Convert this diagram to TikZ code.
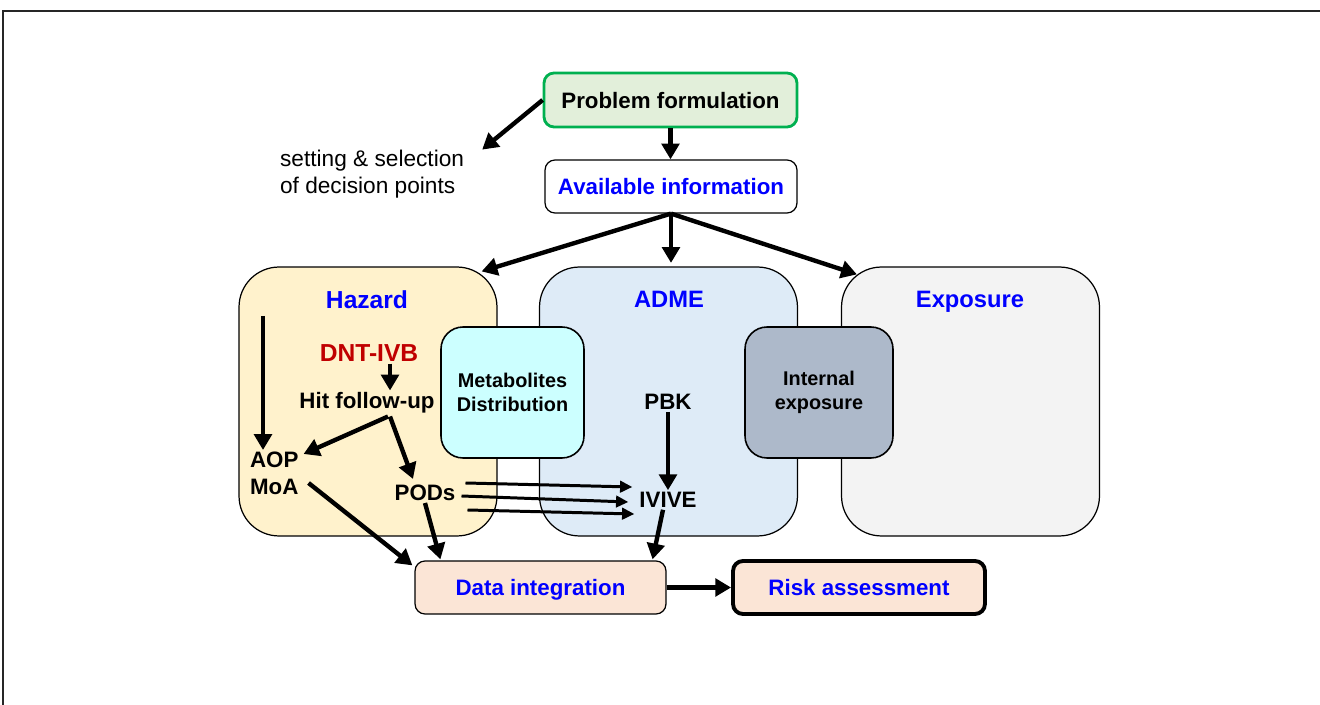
\documentclass[tikz,border=0pt]{standalone}
\usepackage{fontspec}
\setmainfont{Liberation Sans}
\usetikzlibrary{positioning,arrows.meta}
\definecolor{pfgreen}{RGB}{0,176,80}
\definecolor{pffill}{RGB}{226,239,218}
\definecolor{hazfill}{RGB}{255,242,204}
\definecolor{admefill}{RGB}{222,235,247}
\definecolor{expofill}{RGB}{243,243,243}
\definecolor{metafill}{RGB}{204,255,255}
\definecolor{intfill}{RGB}{173,185,202}
\definecolor{difill}{RGB}{251,229,214}
\definecolor{dntred}{RGB}{192,0,0}
\definecolor{titleblue}{RGB}{0,0,255}
\tikzstyle{panel} = [rectangle, draw=black, line width=0.7pt, rounded corners=0.8cm, minimum width=5.16cm, minimum height=5.38cm, inner sep=0pt]
\tikzstyle{block} = [rectangle, draw=black, line width=0.7pt, rounded corners=0.2cm, minimum width=5.04cm, minimum height=1.06cm, inner sep=0pt, text height=12.5pt, text depth=3.3pt, text=titleblue, font=\fontsize{12.7}{15.4}\selectfont\bfseries]
\tikzstyle{innerbox} = [rectangle, draw=black, line width=0.9pt, rounded corners=0.44cm, minimum height=2.62cm, inner sep=0pt, align=center, font=\fontsize{11.3}{13.7}\selectfont\bfseries]
\tikzstyle{lbl} = [inner sep=1pt, font=\fontsize{12.7}{15.4}\selectfont\bfseries]
\tikzstyle{paneltitle} = [inner sep=1pt, anchor=base, text=titleblue, font=\fontsize{13.5}{16}\selectfont\bfseries]
\tikzstyle{arrow} = [line width=2.5pt, -{Triangle[length=9pt,width=10pt]}]
\tikzstyle{thinarrow} = [line width=1.7pt, -{Triangle[length=7pt,width=6.5pt]}]
\begin{document}
\begin{tikzpicture}[x=0.02cm, y=-0.02cm]
		\useasboundingbox (0,0) rectangle (1320,705);
		\draw[line width=1pt, black!85] (3,705) -- (3,11) -- (1320,11);
		% three panels
		\node[panel, fill=hazfill] (hazard) at (368,401.5) {};
		\node[panel, fill=admefill] (adme) at (668.5,401.5) {};
		\node[panel, fill=expofill] (expo) at (970.5,401.5) {};
		\node[innerbox, fill=metafill, minimum width=2.86cm] (meta) at (512.5,392.5) {Metabolites\\Distribution};
		\node[innerbox, fill=intfill, minimum width=2.96cm] (intexp) at (819,392.5) {Internal\\exposure};
		\node[paneltitle, font=\fontsize{14}{16}\selectfont\bfseries] at (367,309) {Hazard};
		\node[paneltitle] at (669,308) {ADME};
		\node[paneltitle] at (970,308) {Exposure};
		% top boxes
		\node[block, draw=pfgreen, line width=1.6pt, fill=pffill, text=black, minimum width=5.06cm, minimum height=1.08cm] (pf) at (670.5,100) {Problem formulation};
		\node[block, fill=white] (ai) at (671,186.5) {Available information};
		\node[lbl, font=\fontsize{12.9}{15.6}\selectfont, align=left, anchor=west] (setting) at (278,174) {setting \& selection\\of decision points};
		% bottom boxes
		\node[block, fill=difill, minimum width=5.02cm] (di) at (540.5,587.5) {Data integration};
		\node[block, fill=difill, line width=2.2pt] (ra) at (859,587.5) {Risk assessment};
		% hazard content
		\node[lbl, text=dntred, font=\fontsize{14}{16}\selectfont\bfseries] (dnt) at (369,353) {DNT-IVB};
		\node[lbl] (hit) at (367,403) {Hit follow-up};
		\node[lbl, anchor=west] (aop) at (248,460) {AOP};
		\node[lbl, anchor=west] (moa) at (248,487) {MoA};
		\node[lbl] (pods) at (425,493) {PODs};
		\coordinate (haztop) at (263,316);
		% adme content
		\node[lbl] (pbk) at (668,402) {PBK};
		\node[lbl] (ivive) at (668,500) {IVIVE};
		% connectors
		\draw[arrow] (pf) -- (pf |- ai.north);
		\draw[arrow] (pf.west) -- ([shift={(16,2)}]setting.north east);
		\draw[arrow] (ai.south) -- ([shift={(-16,5)}]hazard.north east);
		\draw[arrow] (ai.south) -- ([yshift=2pt]ai.south |- adme.north);
		\draw[arrow] (ai.south) -- ([shift={(16,8)}]expo.north west);
		\draw[arrow] (haztop) -- (aop.north -| haztop);
		\draw[arrow] ([shift={(21,0)}]dnt.south) -- ([shift={(23,0)}]hit.north);
		\draw[arrow] ([shift={(21,1)}]hit.south) -- ([shift={(3,-6)}]aop.east);
		\draw[arrow] ([shift={(23,1)}]hit.south) -- ([shift={(-12,-4)}]pods.north);
		\draw[thinarrow] ([shift={(8,-10)}]pods.east) -- ([shift={(-5,-13)}]ivive.west);
		\draw[thinarrow] ([shift={(4,3)}]pods.east) -- ([shift={(-9,2)}]ivive.west);
		\draw[thinarrow] ([shift={(10,17)}]pods.east) -- ([shift={(-3,14)}]ivive.west);
		\draw[arrow] (pbk) -- (ivive);
		\draw[arrow] ([shift={(8,-4)}]moa.east) -- ([shift={(-2,5)}]di.north west);
		\draw[arrow] (pods.south) -- ([shift={(26,-1)}]di.north west);
		\draw[arrow] ([shift={(-5,0)}]ivive.south) -- ([shift={(-14,-1)}]di.north east);
		\draw[arrow] (di) -- (ra);
	\end{tikzpicture}
\end{document}
